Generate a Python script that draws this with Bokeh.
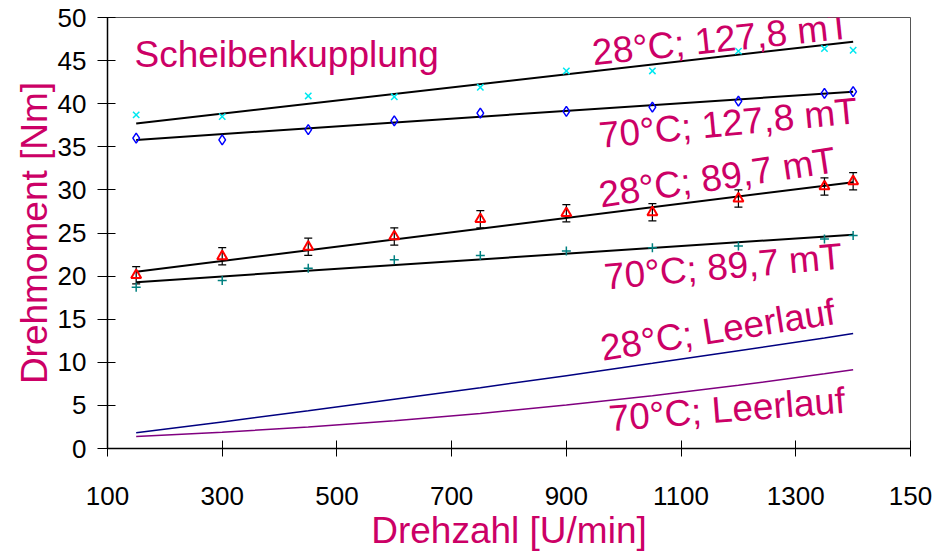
from bokeh.plotting import figure
from bokeh.models import Range1d, FixedTicker, Whisker, TeeHead, ColumnDataSource, Label
from bokeh.embed import file_html
from bokeh.resources import INLINE

# ---- data ----
rpm = [150, 300, 450, 600, 750, 900, 1050, 1200, 1350, 1400]
t28_1278 = [38.7, 38.5, 40.9, 40.8, 41.9, 43.8, 43.8, 46.1, 46.4, 46.2]
t70_1278 = [36.0, 35.8, 37.0, 38.0, 38.9, 39.1, 39.6, 40.3, 41.2, 41.4]
t28_897 = [20.1, 22.3, 23.4, 24.6, 26.6, 27.3, 27.4, 29.0, 30.4, 31.0]
err_28_897 = [1.0, 1.0, 1.0, 1.0, 1.0, 1.0, 1.0, 1.0, 1.0, 1.0]
t70_897 = [18.7, 19.5, 20.9, 21.9, 22.4, 22.9, 23.3, 23.5, 24.3, 24.7]
leer28 = [1.82, 3.08, 4.37, 5.70, 7.06, 8.45, 9.88, 11.34, 12.83, 13.34]
leer70 = [1.39, 1.88, 2.49, 3.22, 4.07, 5.04, 6.13, 7.33, 8.66, 9.13]
fit_x = [150, 1400]
fit_28_1278 = [37.7, 47.2]
fit_70_1278 = [35.8, 41.4]
fit_28_897 = [20.5, 30.9]
fit_70_897 = [19.3, 24.8]
x_ticks = [100, 300, 500, 700, 900, 1100, 1300, 1500]
x_tick_labels = ["100", "300", "500", "700", "900", "1100", "1300", "150"]
y_ticks = [0, 5, 10, 15, 20, 25, 30, 35, 40, 45, 50]

MAG = "#CC0066"
FONT = "Liberation Sans"

p = figure(frame_width=803, frame_height=431, output_backend="svg", toolbar_location=None,
           x_range=Range1d(100, 1500), y_range=Range1d(0, 50),
           min_border_left=107, min_border_right=26, min_border_top=17, min_border_bottom=90)
p.xgrid.visible = False
p.ygrid.visible = False
p.outline_line_color = "#555555"
p.outline_line_width = 1

# axes
p.xaxis.ticker = FixedTicker(ticks=x_ticks)
p.xaxis.major_label_overrides = {t: l for t, l in zip(x_ticks, x_tick_labels)}
p.yaxis.ticker = FixedTicker(ticks=y_ticks)
for ax in (p.xaxis[0], p.yaxis[0]):
    ax.axis_line_color = "black"
    ax.axis_line_width = 1.5
    ax.major_tick_line_color = "black"
    ax.major_tick_line_width = 1
    ax.minor_tick_line_color = None
    ax.major_label_text_font = FONT
    ax.major_label_text_font_size = "26px"
    ax.major_label_text_color = "black"
    ax.axis_label_text_font = FONT
    ax.axis_label_text_font_size = "37px"
    ax.axis_label_text_font_style = "normal"
    ax.axis_label_text_color = MAG
p.xaxis.major_tick_in = 8
p.xaxis.major_tick_out = 8
p.yaxis.major_tick_in = 8
p.yaxis.major_tick_out = 10
p.xaxis.major_label_standoff = 30
p.yaxis.major_label_standoff = 11
p.xaxis.axis_label = "Drehzahl [U/min]"
p.yaxis.axis_label = "Drehmoment [Nm]"
p.xaxis.axis_label_standoff = 2
p.yaxis.axis_label_standoff = 0

# Leerlauf curves
p.line(rpm, leer28, line_color="#000080", line_width=1.5)
p.line(rpm, leer70, line_color="#800080", line_width=1.5)

# fit lines
for fy in (fit_28_1278, fit_70_1278, fit_28_897, fit_70_897):
    p.line(fit_x, fy, line_color="black", line_width=2)

# markers
p.scatter(rpm, t28_1278, marker="x", size=9, line_color="#00E8F0", line_width=1.5)
p.scatter(rpm, t70_1278, marker="diamond", size=10, line_color="#0000FF", fill_color=None, line_width=1.5)
p.scatter(rpm, t70_897, marker="cross", size=9, line_color="#008080", line_width=1.5)
p.scatter(rpm, t28_897, marker="triangle", size=10, line_color="#FF0000", fill_color=None, line_width=2)

src = ColumnDataSource(dict(x=rpm,
                            upper=[v + e for v, e in zip(t28_897, err_28_897)],
                            lower=[v - e for v, e in zip(t28_897, err_28_897)]))
p.add_layout(Whisker(source=src, base="x", upper="upper", lower="lower",
                     line_color="black", line_width=1.2,
                     upper_head=TeeHead(size=8, line_color="black", line_width=1.2),
                     lower_head=TeeHead(size=8, line_color="black", line_width=1.2)))

# annotations
def lab(txt, x, y, ang):
    p.add_layout(Label(x=x, y=y, text=txt, angle=ang, angle_units="deg",
                       text_font=FONT, text_font_size="37px", text_color=MAG,
                       text_align="left", text_baseline="alphabetic"))

lab("Scheibenkupplung", 147, 45.7, 0)
lab("28°C; 127,8 mT", 945, 45.9, 6)
lab("70°C; 127,8 mT", 957, 36.3, 5.5)
lab("28°C; 89,7 mT", 957, 29.4, 8.5)
lab("70°C; 89,7 mT", 966, 19.9, 5)
lab("28°C; Leerlauf", 960, 11.6, 9)
lab("70°C; Leerlauf", 974, 3.45, 4.5)

open("out.html", "w").write(file_html(p, INLINE))
